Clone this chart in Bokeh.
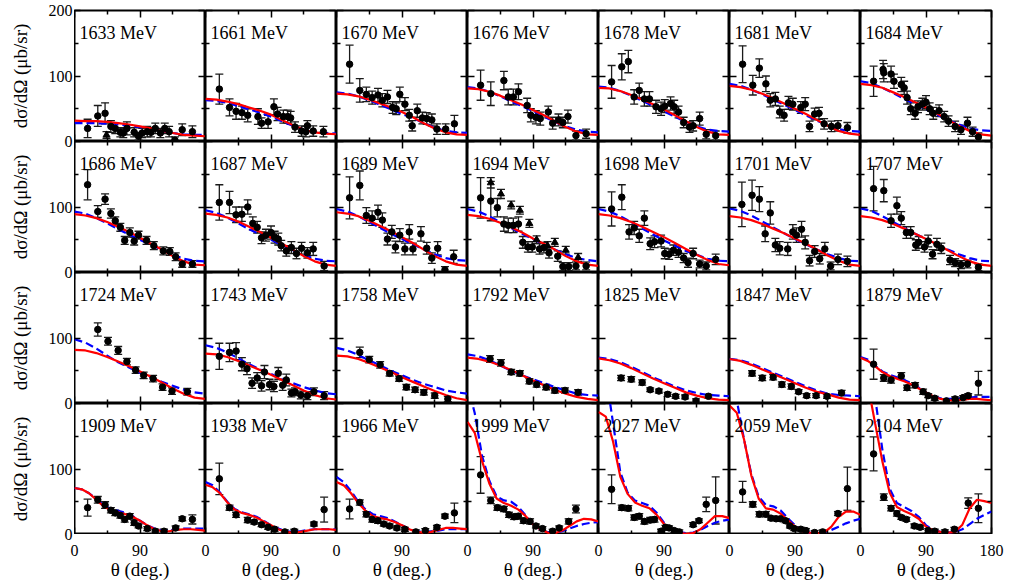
import math
from bokeh.plotting import figure
from bokeh.models import (Range1d, LinearAxis, FixedTicker, Whisker, TeeHead,
                          ColumnDataSource, Label, GridPlot)
from bokeh.embed import file_html
from bokeh.resources import INLINE

# ---------------- data ----------------
ROWS = [
    [1633, 1661, 1670, 1676, 1678, 1681, 1684],
    [1686, 1687, 1689, 1694, 1698, 1701, 1707],
    [1724, 1743, 1758, 1792, 1825, 1847, 1879],
    [1909, 1938, 1966, 1999, 2027, 2059, 2104],
]

TH15 = [0, 15, 30, 45, 60, 75, 90, 105, 120, 135, 150, 165, 180]
TH10 = [0, 10, 20, 30, 40, 50, 60, 70, 80, 90, 100, 110, 120, 130, 140, 150, 160, 170, 180]

RED = {
    1633: [32, 31, 31, 30, 28, 26, 23, 20, 16, 13, 10, 9, 8],
    1661: [65, 64, 61, 57, 52, 47, 41, 33, 25, 18, 14, 12, 11],
    1670: [73, 72, 69, 64, 58, 52, 45, 37, 28, 20, 14, 11, 10],
    1676: [81, 80, 76, 70, 63, 56, 48, 40, 31, 22, 15, 11, 10],
    1678: [82, 81, 77, 71, 64, 57, 49, 40, 31, 22, 15, 11, 10],
    1681: [85, 83, 79, 73, 66, 58, 50, 42, 33, 24, 16, 12, 10],
    1684: [88, 86, 82, 75, 68, 60, 52, 43, 33, 24, 16, 11, 9],
    1686: [89, 87, 83, 77, 70, 62, 53, 44, 35, 25, 17, 12, 11],
    1687: [90, 88, 84, 78, 70, 62, 53, 44, 35, 25, 17, 12, 10],
    1689: [92, 90, 86, 79, 71, 63, 54, 45, 35, 25, 17, 12, 10],
    1694: [88, 86, 82, 76, 69, 61, 52, 44, 35, 25, 17, 12, 10],
    1698: [89, 87, 83, 77, 70, 62, 54, 45, 36, 27, 19, 13, 11],
    1701: [86, 84, 80, 74, 67, 60, 52, 44, 35, 26, 18, 12, 10],
    1707: [86, 84, 80, 74, 67, 59, 51, 43, 34, 25, 17, 12, 10],
    1724: [82, 81, 77, 71, 64, 57, 49, 41, 32, 23, 15, 9, 7],
    1743: [76, 75, 71, 65, 58, 51, 44, 36, 28, 20, 13, 8, 6],
    1758: [73, 72, 68, 62, 55, 48, 40, 33, 26, 19, 13, 8, 5],
    1792: [70, 68, 64, 58, 51, 43, 35, 28, 21, 15, 10, 7, 5],
    1825: [69, 66, 61, 54, 46, 38, 31, 24, 17, 12, 8, 6, 5],
    1847: [68, 65, 59, 52, 45, 38, 31, 24, 18, 14, 9, 6, 5],
    1879: [70, 65, 57, 48, 42, 38, 34, 29, 23, 17, 11, 7, 5, 5, 6, 7, 7, 6, 5],
    1909: [71, 69, 63, 53, 43, 37, 34, 31, 27, 21, 14, 8, 5, 5, 7, 8, 8, 7, 6],
    1938: [76, 72, 63, 49, 38, 33, 30, 26, 20, 14, 8, 4, 3, 4, 6, 8, 8, 8, 7],
    1966: [80, 75, 63, 48, 36, 28, 25, 23, 19, 14, 8, 4, 3, 4, 7, 10, 10, 9, 8],
    1999: [172, 155, 112, 78, 55, 48, 44, 38, 28, 16, 8, 3, 2, 6, 13, 20, 24, 23, 20],
    2027: [187, 180, 142, 88, 62, 49, 44, 40, 30, 16, 8, 3, 1, 2, 8, 18, 28, 28, 25],
    2059: [197, 186, 145, 90, 55, 40, 38, 32, 22, 12, 5, 3, 2, 3, 12, 27, 35, 35, 30],
    2104: [260, 230, 170, 112, 64, 42, 36, 31, 24, 12, 6, 4, 3, 4, 15, 40, 53, 51, 48],
}
BLUE = {
    1633: [28, 28, 28, 27, 26, 24, 22, 19, 16, 13, 11, 10, 10],
    1661: [63, 62, 59, 54, 49, 44, 38, 31, 24, 18, 14, 13, 12],
    1670: [75, 73, 69, 63, 56, 49, 42, 36, 28, 21, 16, 14, 13],
    1676: [83, 81, 76, 69, 61, 54, 46, 38, 30, 23, 18, 15, 14],
    1678: [84, 82, 77, 70, 62, 54, 46, 38, 30, 23, 18, 16, 15],
    1681: [88, 85, 79, 72, 64, 56, 48, 40, 32, 25, 19, 16, 15],
    1684: [92, 89, 82, 74, 65, 57, 49, 41, 33, 26, 20, 17, 16],
    1686: [93, 90, 83, 75, 66, 58, 50, 42, 35, 27, 21, 18, 17],
    1687: [95, 91, 84, 75, 66, 58, 50, 42, 34, 27, 21, 18, 17],
    1689: [97, 93, 86, 77, 68, 59, 51, 43, 35, 28, 22, 19, 18],
    1694: [97, 93, 86, 77, 68, 59, 51, 43, 35, 28, 22, 19, 17],
    1698: [97, 93, 86, 77, 67, 58, 49, 41, 33, 27, 21, 18, 17],
    1701: [98, 94, 87, 78, 69, 60, 51, 43, 35, 28, 22, 18, 17],
    1707: [98, 94, 86, 77, 68, 59, 51, 43, 35, 28, 22, 18, 17],
    1724: [98, 93, 84, 73, 63, 55, 47, 40, 33, 27, 21, 17, 15],
    1743: [89, 85, 78, 69, 60, 52, 45, 38, 31, 25, 20, 16, 14],
    1758: [85, 81, 74, 66, 58, 50, 43, 36, 30, 25, 20, 17, 15],
    1792: [75, 72, 66, 58, 50, 43, 37, 31, 25, 20, 15, 13, 12],
    1825: [70, 68, 63, 56, 48, 40, 33, 26, 20, 16, 13, 12, 11],
    1847: [68, 66, 61, 54, 47, 40, 33, 26, 20, 15, 13, 12, 11],
    1879: [71, 67, 58, 49, 44, 40, 36, 31, 24, 17, 11, 8, 7, 7, 8, 9, 10, 10, 10],
    1909: [71, 69, 63, 54, 45, 39, 36, 33, 28, 21, 14, 9, 6, 6, 8, 9, 9, 9, 9],
    1938: [80, 75, 64, 50, 39, 34, 31, 27, 21, 14, 9, 5, 4, 5, 7, 8, 8, 8, 8],
    1966: [88, 80, 66, 50, 38, 31, 28, 25, 20, 14, 8, 5, 4, 5, 6, 8, 8, 8, 8],
    1999: [230, 185, 120, 82, 58, 52, 50, 42, 29, 16, 8, 4, 3, 5, 9, 13, 16, 18, 19],
    2027: [270, 245, 170, 95, 64, 52, 48, 44, 33, 18, 9, 4, 2, 3, 7, 13, 18, 21, 23],
    2059: [250, 205, 145, 92, 58, 45, 43, 37, 25, 14, 6, 3, 2, 3, 7, 12, 17, 21, 24],
    2104: [320, 290, 210, 130, 70, 48, 42, 36, 27, 14, 7, 4, 3, 4, 8, 16, 24, 30, 35],
}

PT_TH = {
    1633: [18, 32, 42, 50, 56, 63, 67, 72, 82, 88, 93, 100, 105, 111, 118, 124, 130, 138, 148, 162],
    1661: [19, 33, 42, 50, 58, 72, 77, 86, 94, 99, 107, 113, 117, 123, 132, 138, 140, 148, 162],
    1670: [18, 32, 41, 49, 57, 63, 70, 77, 82, 87, 94, 100, 104, 111, 118, 124, 131, 138, 150, 162],
    1676: [18, 32, 50, 56, 63, 70, 82, 87, 94, 100, 111, 117, 125, 131, 138, 149, 163],
    1678: [18, 32, 41, 49, 56, 63, 70, 79, 86, 91, 99, 104, 110, 117, 125, 130, 139, 148, 161],
    1681: [18, 32, 41, 50, 56, 63, 69, 75, 81, 87, 98, 104, 110, 117, 123, 130, 140, 149, 162],
    1684: [18, 31, 32, 42, 46, 56, 60, 64, 69, 75, 79, 85, 90, 95, 100, 108, 115, 121, 130, 138, 147, 154, 162],
    1686: [18, 32, 42, 50, 56, 63, 69, 76, 82, 88, 99, 109, 122, 131, 139, 148, 162],
    1687: [19, 33, 42, 50, 58, 65, 71, 77, 83, 90, 95, 100, 104, 111, 118, 125, 132, 140, 148, 163],
    1689: [18, 32, 41, 49, 57, 63, 70, 76, 81, 87, 94, 100, 105, 116, 124, 131, 139, 149, 161],
    1694: [18, 32, 41, 50, 56, 63, 70, 76, 83, 89, 99, 105, 112, 124, 131, 139, 149, 163],
    1698: [18, 32, 42, 49, 56, 63, 71, 77, 86, 91, 97, 103, 110, 117, 123, 130, 139, 148, 161],
    1701: [17, 31, 41, 49, 56, 63, 69, 80, 87, 92, 99, 104, 110, 117, 124, 131, 139, 149, 162],
    1707: [18, 32, 42, 50, 56, 63, 69, 76, 80, 88, 93, 99, 105, 111, 123, 130, 138, 147, 162],
    1724: [32, 46, 60, 72, 84, 95, 108, 121, 134, 155],
    1743: [19, 33, 42, 50, 57, 64, 71, 77, 81, 88, 94, 100, 106, 111, 118, 123, 131, 140, 149, 163],
    1758: [32, 45, 60, 73, 86, 96, 108, 120, 135, 153],
    1792: [31, 46, 60, 72, 85, 95, 108, 120, 134, 152],
    1825: [31, 45, 60, 71, 83, 95, 106, 119, 134, 151],
    1847: [31, 45, 60, 72, 85, 95, 106, 119, 134, 154],
    1879: [18, 32, 42, 56, 64, 75, 86, 93, 102, 118, 130, 141, 148, 162],
    1909: [18, 32, 42, 50, 56, 63, 69, 76, 82, 88, 100, 111, 123, 139, 148, 162],
    1938: [19, 33, 42, 58, 67, 77, 86, 95, 109, 122, 149, 163],
    1966: [18, 32, 41, 49, 57, 65, 73, 83, 94, 109, 122, 138, 149, 162],
    1999: [18, 32, 41, 50, 57, 64, 70, 77, 86, 94, 103, 117, 126, 139, 149],
    2027: [18, 32, 41, 49, 56, 63, 71, 77, 86, 92, 97, 104, 111, 130, 138, 148, 161],
    2059: [18, 32, 41, 50, 57, 64, 70, 77, 83, 89, 98, 105, 117, 128, 149, 162],
    2104: [18, 32, 42, 50, 56, 63, 74, 82, 93, 102, 116, 129, 148, 162],
}
PT_Y = {
    1633: [20, 39, 43, 23, 20, 14, 13, 20, 14, 8, 13, 15, 14, 20, 13, 20, 15, 2, 18, 15],
    1661: [80, 52, 46, 44, 40, 38, 28, 30, 53, 42, 38, 38, 36, 22, 16, 15, 24, 16, 15],
    1670: [118, 78, 72, 67, 71, 63, 68, 52, 50, 72, 57, 40, 24, 47, 36, 35, 33, 19, 19, 27],
    1676: [86, 73, 93, 68, 68, 76, 55, 40, 37, 35, 45, 28, 33, 29, 38, 9, 12],
    1678: [91, 114, 122, 68, 78, 65, 65, 53, 50, 54, 58, 53, 45, 29, 22, 24, 35, 11, 9],
    1681: [118, 86, 112, 88, 63, 65, 45, 40, 59, 57, 52, 57, 23, 42, 43, 27, 23, 24, 21],
    1684: [92, 110, 105, 103, 92, 87, 82, 67, 50, 43, 53, 57, 60, 50, 43, 47, 38, 31, 23, 18, 28, 15, 7],
    1686: [134, 93, 112, 90, 79, 69, 49, 61, 48, 57, 49, 41, 33, 32, 24, 13, 13],
    1687: [107, 107, 88, 89, 100, 75, 69, 53, 57, 61, 54, 51, 41, 33, 38, 29, 37, 30, 36, 10],
    1689: [114, 133, 87, 83, 92, 80, 51, 62, 39, 57, 36, 62, 36, 59, 37, 22, 37, 4, 24],
    1694: [114, 109, 99, 74, 72, 72, 74, 46, 39, 39, 36, 38, 30, 25, 9, 9, 10, 10],
    1698: [97, 115, 62, 68, 56, 83, 44, 47, 48, 29, 28, 34, 31, 22, 15, 29, 13, 10, 20],
    1701: [104, 118, 112, 59, 91, 42, 37, 36, 62, 57, 66, 46, 18, 32, 21, 36, 10, 20, 17],
    1707: [128, 125, 79, 102, 83, 61, 61, 42, 46, 39, 48, 28, 43, 37, 19, 15, 12, 13, 8],
    1724: [113, 95, 81, 64, 51, 43, 38, 25, 19, 18],
    1743: [72, 78, 80, 60, 53, 31, 39, 27, 48, 29, 26, 46, 28, 36, 16, 18, 13, 12, 18, 12],
    1758: [78, 67, 59, 46, 38, 25, 21, 17, 12, 7],
    1792: [68, 62, 48, 46, 34, 29, 25, 20, 20, 17],
    1825: [39, 37, 32, 21, 19, 14, 11, 10, 4, 11],
    1847: [46, 39, 40, 29, 26, 18, 12, 12, 11, 16],
    1879: [60, 39, 36, 42, 24, 28, 18, 12, 8, 4, 7, 9, 12, 31],
    1909: [41, 53, 45, 37, 33, 29, 23, 28, 18, 13, 9, 5, 5, 10, 24, 23],
    1938: [85, 41, 30, 22, 19, 15, 11, 8, 4, 5, 16, 38],
    1966: [39, 49, 31, 23, 21, 16, 13, 10, 8, 4, 6, 11, 28, 33],
    1999: [91, 52, 41, 39, 30, 27, 28, 21, 20, 13, 9, 5, 10, 20, 39],
    2027: [69, 41, 40, 26, 28, 20, 22, 23, 5, 11, 10, 6, 4, 15, 21, 46, 52],
    2059: [65, 46, 31, 31, 25, 24, 24, 21, 13, 9, 8, 6, 3, 4, 32, 70],
    2104: [123, 57, 40, 32, 26, 23, 13, 11, 6, 5, 4, 8, 48, 40],
}
PT_ERR = {
    1633: [14, 16, 16, 9, 8, 7, 7, 10, 7, 6, 7, 8, 7, 8, 7, 8, 8, 5, 9, 9],
    1661: [23, 13, 12, 10, 10, 12, 8, 10, 12, 10, 10, 10, 10, 8, 8, 8, 8, 8, 8],
    1670: [29, 18, 11, 10, 10, 10, 10, 9, 9, 11, 10, 9, 8, 10, 9, 9, 9, 8, 8, 13],
    1676: [23, 18, 14, 12, 12, 12, 11, 10, 10, 10, 9, 9, 9, 8, 10, 7, 7],
    1678: [25, 20, 17, 11, 11, 11, 11, 10, 10, 10, 10, 10, 9, 8, 8, 8, 10, 7, 7],
    1681: [28, 15, 14, 12, 10, 10, 9, 9, 10, 9, 9, 10, 8, 9, 9, 8, 8, 8, 8],
    1684: [23, 14, 14, 12, 11, 11, 10, 10, 9, 9, 9, 9, 10, 9, 9, 9, 8, 8, 8, 7, 9, 7, 6],
    1686: [23, 9, 8, 7, 6, 6, 6, 7, 6, 6, 6, 6, 6, 6, 6, 5, 5],
    1687: [27, 17, 12, 11, 11, 10, 9, 9, 9, 10, 9, 9, 8, 8, 9, 8, 9, 8, 10, 7],
    1689: [32, 22, 12, 11, 11, 11, 9, 10, 9, 10, 9, 11, 9, 11, 9, 8, 10, 5, 10],
    1694: [31, 30, 14, 11, 11, 11, 11, 9, 8, 8, 8, 8, 8, 8, 6, 6, 6, 6],
    1698: [26, 19, 11, 10, 10, 11, 9, 9, 9, 8, 8, 8, 8, 7, 7, 8, 6, 6, 8],
    1701: [34, 23, 19, 12, 17, 10, 10, 10, 11, 11, 12, 10, 8, 9, 8, 10, 6, 8, 8],
    1707: [34, 17, 10, 13, 10, 9, 9, 8, 9, 8, 9, 7, 9, 8, 7, 6, 6, 6, 5],
    1724: [10, 6, 6, 5, 5, 5, 5, 5, 5, 5],
    1743: [20, 14, 13, 10, 9, 8, 8, 8, 10, 8, 8, 9, 8, 9, 6, 6, 6, 6, 6, 6],
    1758: [8, 5, 5, 4, 4, 4, 4, 4, 4, 4],
    1792: [5, 5, 4, 4, 4, 4, 4, 4, 4, 4],
    1825: [4, 4, 4, 3, 3, 3, 3, 3, 3, 3],
    1847: [4, 4, 4, 4, 4, 3, 3, 3, 3, 4],
    1879: [23, 5, 5, 5, 4, 4, 4, 3, 3, 3, 3, 3, 3, 18],
    1909: [13, 5, 5, 4, 4, 4, 4, 4, 4, 3, 3, 3, 3, 3, 3, 7],
    1938: [24, 4, 4, 4, 3, 3, 3, 3, 3, 3, 3, 19],
    1966: [15, 4, 4, 4, 4, 3, 3, 3, 3, 3, 3, 3, 3, 15],
    1999: [28, 5, 4, 4, 4, 4, 4, 4, 4, 3, 3, 3, 3, 4, 6],
    2027: [22, 4, 4, 4, 4, 4, 4, 4, 3, 3, 3, 3, 3, 3, 3, 11, 36],
    2059: [16, 4, 4, 4, 3, 3, 3, 3, 3, 3, 3, 3, 3, 3, 3, 33],
    2104: [26, 5, 4, 4, 3, 3, 3, 3, 3, 3, 3, 3, 8, 22],
}
TRI_TH = {1633: [44], 1694: [32, 46, 60, 72, 85, 95, 110, 120, 135, 152]}
TRI_Y = {1633: [10], 1694: [137, 120, 103, 95, 75, 50, 41, 46, 34, 23]}
TRI_ERR = {1633: [5], 1694: [8, 7, 6, 6, 6, 6, 6, 6, 6, 6]}

X_TICKS, X_MINOR = [0, 90, 180], [45, 135]
Y_TICKS, Y_MINOR = [0, 100, 200], [50, 150]
Y_LABEL = "dσ/dΩ (μb/sr)"
X_LABEL = "θ (deg.)"

# ---------------- drawing ----------------
FONT = "Liberation Serif"
FW, FH = 131, 131          # panel frame size
TITLE_W = 34               # column holding the rotated y titles
TICK_W = 40                # column holding the y tick labels (incl. 9px outer ticks)
TB, RB = 10, 16
BOT_LAB, BOT_TIT = 26, 24  # bottom strip: tick-label band and title band
NR, NC = len(ROWS), len(ROWS[0])


def bare(**kw):
    f = figure(x_axis_location=None, y_axis_location=None, output_backend="svg",
               toolbar_location=None, title=None, min_border=0, **kw)
    f.grid.visible = False
    f.outline_line_color = None
    f.background_fill_color = None
    f.border_fill_color = None
    return f


def inner_axis(ticks, minor):
    ax = LinearAxis(ticker=FixedTicker(ticks=ticks, minor_ticks=minor))
    ax.axis_line_color = None
    ax.major_tick_line_color = "black"
    ax.major_tick_line_width = 1.5
    ax.minor_tick_line_color = "black"
    ax.minor_tick_line_width = 1.5
    ax.major_tick_in = 7
    ax.major_tick_out = 0
    ax.minor_tick_in = 4
    ax.minor_tick_out = 0
    ax.major_label_text_color = None
    ax.major_label_standoff = 0
    return ax


def error_bars(p, th, y, err):
    src = ColumnDataSource(dict(x=th, y=y,
                                lo=[a - b for a, b in zip(y, err)],
                                hi=[a + b for a, b in zip(y, err)]))
    w = Whisker(base="x", upper="hi", lower="lo", source=src,
                line_color="#1a1a1a", line_width=1.3,
                upper_head=TeeHead(size=8, line_color="#1a1a1a", line_width=1.3),
                lower_head=TeeHead(size=8, line_color="#1a1a1a", line_width=1.3))
    p.add_layout(w)
    return src


children = []
ymax = 200 * NR
xmax = 180 * NC

# column 0: rotated y titles, one per row
titles = bare(frame_width=TITLE_W, frame_height=FH * NR,
              x_range=Range1d(0, TITLE_W), y_range=Range1d(0, ymax),
              min_border_top=TB)
for k in range(NR):
    titles.add_layout(Label(x=20, y=100 + 200 * k, text=Y_LABEL, angle=math.pi / 2,
                            text_align="center", text_baseline="middle",
                            text_font=FONT, text_font_size="19px", text_color="black"))
children.append((titles, 0, 0, NR, 1))

# column 1: y tick labels + outer ticks (spans the bottom band too)
ticks = bare(frame_width=9, frame_height=FH * NR,
             x_range=Range1d(0, 1), y_range=Range1d(0, ymax),
             min_border_left=TICK_W - 9, min_border_top=TB,
             min_border_bottom=BOT_LAB + BOT_TIT)
yticks = list(range(0, ymax + 1, 100))
ylab = LinearAxis(ticker=FixedTicker(ticks=yticks, minor_ticks=[]))
ylab.axis_line_color = None
ylab.major_tick_in = 9
ylab.major_tick_out = 0
ylab.major_tick_line_width = 1.5
ylab.major_tick_line_color = "black"
ylab.major_label_standoff = 2
ylab.major_label_text_font = FONT
ylab.major_label_text_font_size = "16px"
ylab.major_label_text_color = "black"
ylab.major_label_overrides = {t: str(t % 200) for t in yticks}
ylab.major_label_overrides[ymax] = "200"
ticks.add_layout(ylab, "left")
children.append((ticks, 0, 1, NR + 1, 1))

# bottom band: x tick labels (axis above the frame) and x titles (inside the frame)
bottom = bare(frame_width=FW * NC, frame_height=BOT_TIT,
              x_range=Range1d(0, xmax), y_range=Range1d(0, BOT_TIT),
              min_border_left=TICK_W, min_border_right=RB, min_border_top=BOT_LAB)
xticks = list(range(0, xmax + 1, 90))
xlab = LinearAxis(ticker=FixedTicker(ticks=xticks, minor_ticks=[]))
xlab.axis_line_color = None
xlab.major_tick_in = 0
xlab.major_tick_out = 0
xlab.major_label_standoff = 5
xlab.major_label_text_font = FONT
xlab.major_label_text_font_size = "16px"
xlab.major_label_text_color = "black"
xlab.major_label_overrides = {t: str(t % 180) for t in xticks}
xlab.major_label_overrides[xmax] = "180"
bottom.add_layout(xlab, "above")
for k in range(NC):
    bottom.add_layout(Label(x=90 + 180 * k, y=15, text=X_LABEL,
                            text_align="center", text_baseline="middle",
                            text_font=FONT, text_font_size="19px", text_color="black"))
children.append((bottom, NR, 1, 1, NC + 1))

# the 28 panels
for r, row in enumerate(ROWS):
    for c, e in enumerate(row):
        p = figure(frame_width=FW, frame_height=FH,
                   x_range=Range1d(0, 180), y_range=Range1d(0, 200),
                   x_axis_location=None, y_axis_location=None,
                   output_backend="svg", toolbar_location=None, title=None,
                   min_border=0,
                   min_border_right=RB if c == NC - 1 else 0,
                   min_border_top=TB if r == 0 else 0)
        p.grid.visible = False
        p.outline_line_color = "black"
        p.outline_line_width = 2
        p.border_fill_color = None

        la = inner_axis(Y_TICKS, Y_MINOR)
        if c == 0:
            la.major_tick_in = 6
        p.add_layout(la, "left")
        p.add_layout(inner_axis(Y_TICKS, Y_MINOR), "right")
        p.add_layout(inner_axis(X_TICKS, X_MINOR), "below")
        p.add_layout(inner_axis(X_TICKS, X_MINOR), "above")

        th_curve = TH15 if len(RED[e]) == len(TH15) else TH10
        p.line(th_curve, BLUE[e], line_color="#0000ff", line_width=2.2, line_dash="8 4")
        p.line(th_curve, RED[e], line_color="#ff0000", line_width=2.2)

        src = error_bars(p, PT_TH[e], PT_Y[e], PT_ERR[e])
        p.scatter("x", "y", source=src, size=6.5, color="black", marker="circle")
        if e in TRI_TH:
            tsrc = error_bars(p, TRI_TH[e], TRI_Y[e], TRI_ERR[e])
            p.scatter("x", "y", source=tsrc, size=7, color="black", marker="triangle")

        p.add_layout(Label(x=7, y=165, text=f"{e} MeV", text_font=FONT,
                           text_font_size="18px", text_color="black",
                           text_baseline="alphabetic"))
        children.append((p, r, c + 2))

layout = GridPlot(children=children, toolbar_location=None, spacing=0)
open("out.html", "w").write(file_html(layout, INLINE))
